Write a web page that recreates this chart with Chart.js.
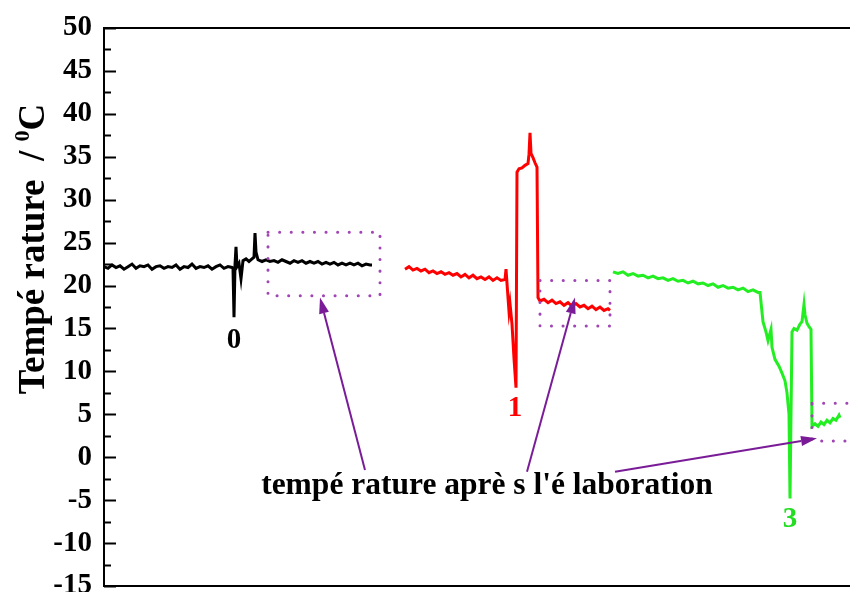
<!DOCTYPE html>
<html>
<head>
<meta charset="utf-8">
<script src="https://cdn.jsdelivr.net/npm/chart.js@4.4.1/dist/chart.umd.min.js"></script>
<style>
  html, body { margin: 0; padding: 0; background: #fff; overflow: hidden; }
  #wrap { width: 850px; height: 592px; }
</style>
</head>
<body>
<div id="wrap"><canvas id="tempChart" width="850" height="592"></canvas></div>
<script>
// y axis
const yMin = -15;
const yMax = 50;
const yStep = 5;
const yMinorStep = 2.5;
// x axis (time, arbitrary units, no labels on the figure)
const tMin = 0;
const tMax = 746;

// sample 0 (black)
const blackT = [0, 4, 8, 12, 16, 20, 24, 28, 32, 36, 40, 44, 48, 52, 56, 60, 64, 68, 72, 76, 80, 84, 88, 92, 96, 100, 104, 108, 112, 116, 120, 124, 128,
  129, 130, 131, 132, 133, 135, 137, 139, 142, 145, 148, 150, 151, 152, 154,
  158, 162, 166, 170, 174, 178, 182, 186, 190, 194, 198, 202, 206, 210, 214, 218, 222, 226, 230, 234, 238, 242, 246, 250, 254, 258, 262, 266, 268];
const blackV = [22.2, 22.0, 22.4, 22.1, 22.3, 21.9, 22.2, 22.5, 22.0, 22.3, 22.2, 22.4, 21.9, 22.2, 22.3, 22.0, 22.2, 22.1, 22.4, 21.9, 22.2, 22.1, 22.5, 22.0, 22.2, 22.1, 22.3, 21.9, 22.2, 22.4, 22.0, 22.2, 22.1,
  22.0, 16.3, 22.4, 24.5, 22.2, 22.6, 20.8, 22.9, 23.1, 22.8, 23.1, 23.3, 26.1, 23.9, 23.0,
  22.8, 23.0, 22.8, 22.9, 22.7, 23.0, 22.8, 22.6, 22.9, 22.7, 22.9, 22.6, 22.8, 22.6, 22.8, 22.5, 22.7, 22.5, 22.7, 22.4, 22.6, 22.4, 22.6, 22.4, 22.6, 22.3, 22.5, 22.4, 22.4];

// sample 1 (red)
const redT = [301, 305, 309, 313, 317, 321, 325, 329, 333, 337, 341, 345, 349, 353, 357, 361, 365, 369, 373, 377, 381, 385, 389, 393, 397, 401,
  402, 404, 405, 406, 408, 410, 412, 413, 415, 418, 421, 424, 425, 426, 427, 429, 431, 433, 434, 436,
  440, 444, 448, 452, 456, 460, 464, 468, 472, 476, 480, 484, 488, 492, 496, 500, 504, 506];
const redV = [21.9, 22.2, 21.8, 22.0, 21.7, 21.9, 21.5, 21.7, 21.4, 21.6, 21.3, 21.5, 21.2, 21.4, 21.0, 21.3, 20.9, 21.2, 20.8, 21.0, 20.7, 21.0, 20.6, 20.9, 20.6, 20.7,
  21.9, 18.6, 17.0, 17.9, 15.5, 11.5, 8.1, 33.2, 33.6, 33.7, 34.0, 34.2, 35.3, 37.8, 35.4, 34.9, 34.3, 33.8, 18.6, 18.2,
  18.4, 18.0, 18.3, 17.9, 18.1, 17.7, 18.0, 17.6, 17.9, 17.5, 17.7, 17.3, 17.6, 17.2, 17.5, 17.1, 17.3, 17.1];

// sample 3 (green)
const greenT = [509, 514, 519, 524, 529, 534, 539, 544, 549, 554, 559, 564, 569, 574, 579, 584, 589, 594, 599, 604, 609, 614, 619, 624, 629, 634, 639, 644, 649, 654,
  656, 659, 662, 664, 667, 668, 671, 675, 678, 681, 683, 685, 686, 688, 690, 693, 696, 698, 700, 701, 703, 705, 707,
  708, 711, 714, 717, 720, 723, 726, 729, 732, 735, 736];
const greenV = [21.6, 21.4, 21.6, 21.2, 21.4, 21.1, 21.2, 20.9, 21.1, 20.8, 20.9, 20.6, 20.8, 20.5, 20.6, 20.3, 20.5, 20.2, 20.3, 20.0, 20.2, 19.8, 20.0, 19.7, 19.8, 19.5, 19.7, 19.3, 19.5, 19.2,
  19.2, 15.8, 14.6, 13.6, 14.9, 12.8, 11.4, 10.6, 9.8, 8.9, 7.5, 5.0, -4.8, 14.6, 15.0, 14.8, 15.5, 15.8, 17.8, 16.6, 15.6, 15.2, 14.9,
  3.6, 3.9, 3.6, 4.1, 3.8, 4.3, 4.0, 4.5, 4.3, 4.9, 4.6];

// annotations (data coordinates)
const sampleLabels = [
  { text: '0', t: 130, v: 13.6, color: '#000000' },
  { text: '1', t: 411, v: 5.7, color: '#ff0000' },
  { text: '3', t: 686, v: -7.3, color: '#22dd22' }
];
const noteText = "tempé rature aprè s l'é laboration";
const notePos = { t: 383, v: -3.3 };
const boxes = [
  { t0: 164, t1: 276, v0: 18.8, v1: 26.2 },
  { t0: 436, t1: 506, v0: 15.3, v1: 20.6 },
  { t0: 708, t1: 752, v0: 1.9, v1: 6.3 }
];
const arrows = [
  { t0: 261, v0: -1.5, t1: 216, v1: 18.6 },
  { t0: 423, v0: -1.7, t1: 471, v1: 18.6 },
  { t0: 511, v0: -1.7, t1: 713, v1: 2.2 }
];

function toPoints(ts, vs) {
  return ts.map((t, i) => ({ x: t, y: vs[i] }));
}

const serif = '"Liberation Serif", "Times New Roman", serif';

const notesPlugin = {
  id: 'notes',
  afterDatasetsDraw(chart) {
    const { ctx, chartArea } = chart;
    const x = chart.scales.x;
    const y = chart.scales.y;
    ctx.save();

    // inward ticks on the y axis
    ctx.strokeStyle = '#000';
    ctx.lineWidth = 2;
    for (let v = yMin; v <= yMax; v += yMinorStep) {
      const py = Math.round(y.getPixelForValue(v)) + 0.5;
      const len = (v % yStep === 0) ? 12 : 7;
      ctx.beginPath();
      ctx.moveTo(chartArea.left, py);
      ctx.lineTo(chartArea.left + len, py);
      ctx.stroke();
    }

    // dotted boxes
    ctx.strokeStyle = '#a045b4';
    ctx.lineWidth = 3;
    ctx.lineCap = 'round';
    ctx.setLineDash([0.1, 11.5]);
    boxes.forEach(b => {
      const l = x.getPixelForValue(b.t0), r = x.getPixelForValue(b.t1);
      const t = y.getPixelForValue(b.v1), bt = y.getPixelForValue(b.v0);
      ctx.strokeRect(l, t, r - l, bt - t);
    });
    ctx.setLineDash([]);

    // arrows
    ctx.strokeStyle = '#7a1c98';
    ctx.fillStyle = '#7a1c98';
    ctx.lineWidth = 2;
    ctx.lineCap = 'butt';
    arrows.forEach(a => {
      const x0 = x.getPixelForValue(a.t0), y0 = y.getPixelForValue(a.v0);
      const x1 = x.getPixelForValue(a.t1), y1 = y.getPixelForValue(a.v1);
      const ang = Math.atan2(y1 - y0, x1 - x0);
      const hl = 16, hw = 5;
      const bx = x1 - hl * Math.cos(ang), by = y1 - hl * Math.sin(ang);
      ctx.beginPath();
      ctx.moveTo(x0, y0);
      ctx.lineTo(bx, by);
      ctx.stroke();
      ctx.beginPath();
      ctx.moveTo(x1, y1);
      ctx.lineTo(bx + hw * Math.sin(ang), by - hw * Math.cos(ang));
      ctx.lineTo(bx - hw * Math.sin(ang), by + hw * Math.cos(ang));
      ctx.closePath();
      ctx.fill();
    });

    // sample numbers
    ctx.textAlign = 'center';
    ctx.textBaseline = 'middle';
    ctx.font = 'bold 29px ' + serif;
    sampleLabels.forEach(s => {
      ctx.fillStyle = s.color;
      ctx.fillText(s.text, x.getPixelForValue(s.t), y.getPixelForValue(s.v));
    });

    // note text
    ctx.fillStyle = '#000';
    ctx.font = 'bold 31.5px ' + serif;
    ctx.fillText(noteText, x.getPixelForValue(notePos.t), y.getPixelForValue(notePos.v));

    // y axis title
    ctx.translate(44, 249);
    ctx.rotate(-Math.PI / 2);
    const main = 'Tempé rature  / ';
    const sup = '0';
    const unit = 'C';
    ctx.font = 'bold 37px ' + serif;
    const wMain = ctx.measureText(main).width;
    const wUnit = ctx.measureText(unit).width;
    ctx.font = 'bold 22px ' + serif;
    const wSup = ctx.measureText(sup).width;
    let cx = -(wMain + wSup + wUnit) / 2;
    ctx.textAlign = 'left';
    ctx.textBaseline = 'alphabetic';
    ctx.font = 'bold 37px ' + serif;
    ctx.fillText(main, cx, 0);
    cx += wMain;
    ctx.font = 'bold 22px ' + serif;
    ctx.fillText(sup, cx, -15);
    cx += wSup;
    ctx.font = 'bold 37px ' + serif;
    ctx.fillText(unit, cx, 0);

    ctx.restore();
  }
};

const ctx = document.getElementById('tempChart').getContext('2d');
const tempChart = new Chart(ctx, {
  type: 'line',
  data: {
    datasets: [
      { label: '0', data: toPoints(blackT, blackV), borderColor: '#000000', borderWidth: 3, pointRadius: 0, fill: false, tension: 0 },
      { label: '1', data: toPoints(redT, redV), borderColor: '#ff0000', borderWidth: 3, pointRadius: 0, fill: false, tension: 0 },
      { label: '3', data: toPoints(greenT, greenV), borderColor: '#22ee22', borderWidth: 3, pointRadius: 0, fill: false, tension: 0 }
    ]
  },
  options: {
    responsive: false,
    animation: false,
    layout: { padding: { top: 28, bottom: 6, left: 0, right: 0 } },
    scales: {
      x: {
        type: 'linear', position: 'bottom', min: tMin, max: tMax,
        ticks: { display: false },
        grid: { drawOnChartArea: false, drawTicks: false },
        border: { display: true, color: '#000', width: 2 }
      },
      xTop: {
        type: 'linear', position: 'top', min: tMin, max: tMax,
        ticks: { display: false },
        grid: { drawOnChartArea: false, drawTicks: false },
        border: { display: true, color: '#000', width: 2 }
      },
      y: {
        min: yMin, max: yMax,
        ticks: { stepSize: yStep, color: '#000', padding: 12, font: { family: serif, weight: 'bold', size: 29 } },
        grid: { drawOnChartArea: false, drawTicks: false },
        border: { display: true, color: '#000', width: 2 },
        afterFit: scale => {
          scale.width = 104;
          scale.paddingTop = 0;
          scale.paddingBottom = 0;
        }
      }
    },
    plugins: {
      legend: { display: false },
      tooltip: { enabled: false }
    }
  },
  plugins: [notesPlugin]
});
</script>
</body>
</html>
